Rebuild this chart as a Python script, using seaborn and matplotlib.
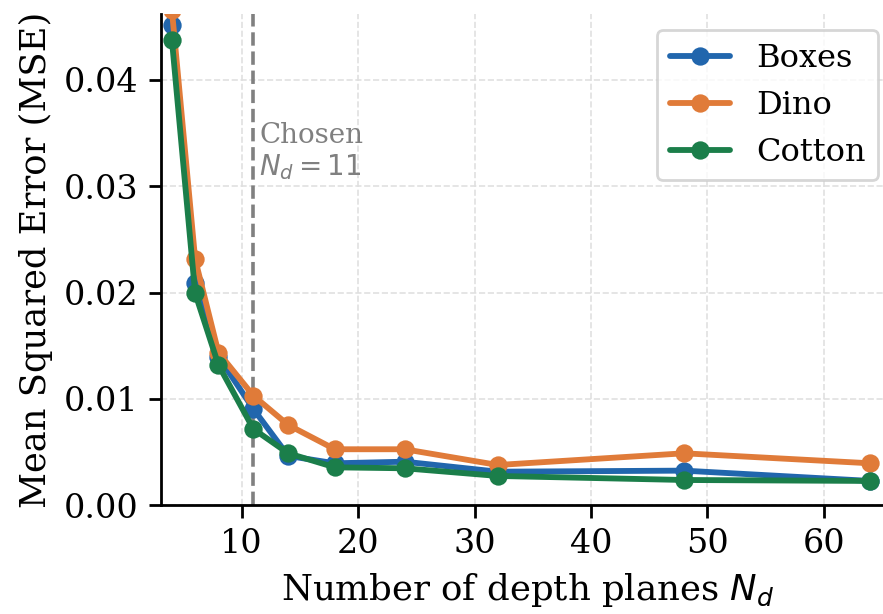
import matplotlib
matplotlib.use("Agg")
import matplotlib.pyplot as plt
import numpy as np
import pandas as pd
import seaborn as sns

# Number of depth planes evaluated
n_planes = [4, 6, 8, 11, 14, 18, 24, 32, 48, 64]

# Reconstruction MSE per scene
mse_boxes = [0.0452, 0.02088, 0.01398, 0.00906, 0.00464, 0.00395, 0.00410, 0.00316, 0.00326, 0.00229]
mse_dino = [0.0466, 0.02314, 0.01436, 0.01031, 0.00755, 0.00527, 0.00527, 0.00379, 0.00489, 0.00395]
mse_cotton = [0.0438, 0.01994, 0.01320, 0.00718, 0.00489, 0.00357, 0.00348, 0.00276, 0.00238, 0.00229]

scenes = ["Boxes", "Dino", "Cotton"]
colors = ["#2166ad", "#e07b39", "#1b7e4a"]
chosen_nd = 11

df = pd.DataFrame({
    "N": n_planes * 3,
    "MSE": mse_boxes + mse_dino + mse_cotton,
    "Scene": [s for s in scenes for _ in n_planes],
})

sns.set_theme(style="ticks")
plt.rcParams["font.family"] = ["DejaVu Serif"]
plt.rcParams["mathtext.fontset"] = "dejavusans"
for key in ("text.color", "axes.labelcolor", "xtick.color", "ytick.color"):
    plt.rcParams[key] = "black"

W, H = 883, 614
fig = plt.figure(figsize=(W / 200, H / 200), dpi=200)
ax_left, ax_right, ax_bottom, ax_top = 160.7, 894, 505.3, 14
ax = fig.add_axes([ax_left / W, (H - ax_bottom) / H,
                   (ax_right - ax_left) / W, (ax_bottom - ax_top) / H])

sns.lineplot(
    data=df, x="N", y="MSE", hue="Scene", hue_order=scenes,
    palette=dict(zip(scenes, colors)), marker="o", markersize=6.6,
    markeredgewidth=0, linewidth=2.1, ax=ax,
)

ax.axvline(chosen_nd, color="#808080", linestyle="--", linewidth=1.3, zorder=1)
ax.text(chosen_nd + 0.5, 0.0360, "Chosen\n$N_d = 11$", color="#808080",
        fontsize=10, va="top", ha="left", linespacing=1.1)

ax.set_xlim(3.04, 66.04)
ax.set_ylim(0, 0.0462)
ax.set_xticks([10, 20, 30, 40, 50, 60])
ax.set_yticks([0.0, 0.01, 0.02, 0.03, 0.04])
ax.yaxis.set_major_formatter(matplotlib.ticker.FormatStrFormatter("%.2f"))
ax.tick_params(labelsize=12, width=1.0, length=4.5, color="black")
for side in ("left", "bottom"):
    ax.spines[side].set_color("black")
    ax.spines[side].set_linewidth(1.0)
sns.despine(ax=ax)

ax.grid(True, linestyle="--", color="#e0e0e0", linewidth=0.6)
ax.set_axisbelow(True)

ax.set_xlabel("Number of depth planes $N_d$", fontsize=12.8)
ax.set_ylabel("Mean Squared Error (MSE)", fontsize=12.7)

leg = ax.legend(loc="upper right", fontsize=11.5, frameon=True,
                borderaxespad=0.5, handlelength=1.9)
leg.get_frame().set_edgecolor("#cccccc")

fig.savefig("out.png", dpi=200)
